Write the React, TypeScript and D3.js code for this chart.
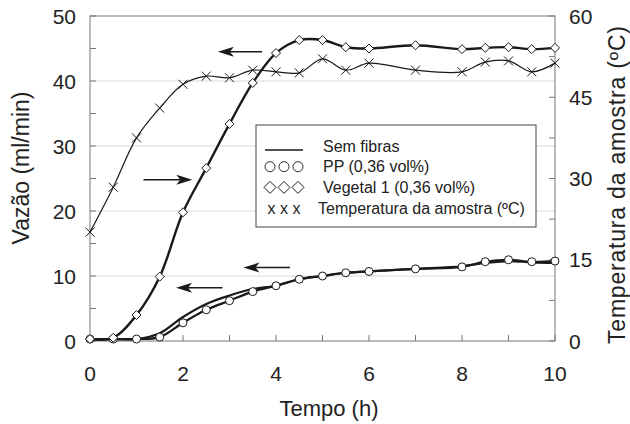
import React from "react";
import * as d3 from "d3";

const tempo = [0, 0.5, 1, 1.5, 2, 2.5, 3, 3.5, 4, 4.5, 5, 5.5, 6, 7, 8, 8.5, 9, 9.5, 10];
const semFibras = [0.3, 0.3, 0.3, 1.2, 3.7, 5.7, 7.0, 8.0, 8.5, 9.5, 10.0, 10.5, 10.7, 11.1, 11.5, 12.0, 12.3, 12.1, 12.0];
const pp = [0.3, 0.3, 0.3, 0.6, 2.8, 4.8, 6.2, 7.6, 8.5, 9.5, 10.0, 10.5, 10.7, 11.1, 11.4, 12.2, 12.5, 12.2, 12.3];
const vegetal = [0.3, 0.5, 4.0, 9.9, 19.8, 26.6, 33.4, 39.7, 44.3, 46.3, 46.3, 45.2, 45.0, 45.5, 44.9, 45.1, 45.2, 44.9, 45.1];
const temperatura = [20.1, 28.4, 37.5, 43.0, 47.4, 48.9, 48.6, 50.0, 49.7, 49.5, 52.1, 50.0, 51.3, 50.0, 49.7, 51.5, 51.7, 49.7, 51.3];

const xTicks = [0, 2, 4, 6, 8, 10];
const yLeftTicks = [0, 10, 20, 30, 40, 50];
const yRightTicks = [0, 15, 30, 45, 60];

const legendLabels = ["Sem fibras", "PP (0,36 vol%)", "Vegetal 1 (0,36 vol%)", "Temperatura da amostra (ºC)"];

// arrows: [fromTime, fromValue(left), toTime, toValue]
const arrows = [
  [3.7, 44.5, 2.75, 44.5],
  [1.15, 24.8, 2.2, 24.8],
  [4.3, 11.3, 3.3, 11.3],
  [2.85, 8.2, 1.85, 8.2],
];

const x = d3.scaleLinear().domain([0, 10]).range([90, 555]);
const yL = d3.scaleLinear().domain([0, 50]).range([341, 16]);
const yR = d3.scaleLinear().domain([0, 60]).range([341, 16]);

const FONT = "'Liberation Sans', Arial, sans-serif";
const INK = "#1a1a1a";

function lineFor(vals: number[], scale: d3.ScaleLinear<number, number>) {
  return d3
    .line<number>()
    .x((_, i) => x(tempo[i]))
    .y((v) => scale(v))
    .curve(d3.curveCatmullRom.alpha(0.5))(vals) as string;
}

function Diamond({ cx, cy, r }: { cx: number; cy: number; r: number }) {
  return (
    <path
      d={`M${cx},${cy - r}L${cx + r},${cy}L${cx},${cy + r}L${cx - r},${cy}Z`}
      fill="#fff"
      stroke={INK}
      strokeWidth={1}
    />
  );
}

function Cross({ cx, cy, r }: { cx: number; cy: number; r: number }) {
  return (
    <path
      d={`M${cx - r},${cy - r}L${cx + r},${cy + r}M${cx - r},${cy + r}L${cx + r},${cy - r}`}
      stroke={INK}
      strokeWidth={1}
    />
  );
}

export default function App() {
  const minorX = d3.range(0, 11, 1);
  const minorL = d3.range(0, 51, 5);
  const minorR = d3.range(0, 61, 7.5);
  return (
    <svg
      width={630}
      height={424}
      style={{ position: "absolute", left: 0, top: 0, background: "#fff" }}
      fontFamily={FONT}
    >
      <rect x={0} y={0} width={630} height={424} fill="#fff" />
      {/* gridlines */}
      {[10, 20, 30, 40].map((v) => (
        <line key={v} x1={x(0)} x2={x(10)} y1={yL(v)} y2={yL(v)} stroke="#d8d8d8" strokeWidth={1} />
      ))}
      {/* frame */}
      <rect x={x(0)} y={yL(50)} width={x(10) - x(0)} height={yL(0) - yL(50)} fill="none" stroke="#777" strokeWidth={1} />
      {/* ticks */}
      {minorX.map((t) => (
        <line key={"xt" + t} x1={x(t)} x2={x(t)} y1={yL(0)} y2={yL(0) - 6} stroke="#777" />
      ))}
      {minorL.map((t) => (
        <line key={"lt" + t} x1={x(0)} x2={x(0) + 6} y1={yL(t)} y2={yL(t)} stroke="#777" />
      ))}
      {minorR.map((t) => (
        <line key={"rt" + t} x1={x(10)} x2={x(10) - 6} y1={yR(t)} y2={yR(t)} stroke="#777" />
      ))}
      {/* tick labels */}
      {xTicks.map((t) => (
        <text key={"xl" + t} x={x(t)} y={373} textAnchor="middle" dominantBaseline="central" fontSize={21} fill="#222">
          {t}
        </text>
      ))}
      {yLeftTicks.map((t) => (
        <text key={"yl" + t} x={76} y={yL(t)} textAnchor="end" dominantBaseline="central" fontSize={21} fill="#222">
          {t}
        </text>
      ))}
      {yRightTicks.map((t) => (
        <text key={"yr" + t} x={569} y={yR(t)} textAnchor="start" dominantBaseline="central" fontSize={21} fill="#222">
          {t}
        </text>
      ))}
      {/* axis titles */}
      <text x={329} y={408} textAnchor="middle" dominantBaseline="central" fontSize={22} fill="#222">
        Tempo (h)
      </text>
      <text
        transform={`translate(21,168) rotate(-90)`}
        textAnchor="middle"
        dominantBaseline="central"
        fontSize={23}
        fill="#222"
      >
        Vazão (ml/min)
      </text>
      <text
        transform={`translate(617,185) rotate(-90)`}
        textAnchor="middle"
        dominantBaseline="central"
        fontSize={23}
        fill="#222"
        textLength={318}
        lengthAdjust="spacing"
      >
        Temperatura da amostra (ºC)
      </text>

      {/* series lines */}
      <path d={lineFor(temperatura, yR)} fill="none" stroke={INK} strokeWidth={1.2} />
      <path d={lineFor(semFibras, yL)} fill="none" stroke={INK} strokeWidth={2.2} />
      <path d={lineFor(pp, yL)} fill="none" stroke={INK} strokeWidth={2.2} />
      <path d={lineFor(vegetal, yL)} fill="none" stroke={INK} strokeWidth={2.4} />

      {/* markers */}
      {temperatura.map((v, i) => (
        <Cross key={"c" + i} cx={x(tempo[i])} cy={yR(v)} r={4.5} />
      ))}
      {pp.map((v, i) => (
        <circle key={"p" + i} cx={x(tempo[i])} cy={yL(v)} r={4} fill="#fff" stroke={INK} strokeWidth={1} />
      ))}
      {vegetal.map((v, i) => (
        <Diamond key={"d" + i} cx={x(tempo[i])} cy={yL(v)} r={4.5} />
      ))}

      {/* arrows */}
      {arrows.map(([t0, v0, t1, v1], i) => {
        const x0 = x(t0), y0 = yL(v0), x1 = x(t1), y1 = yL(v1);
        const dir = Math.sign(x1 - x0);
        const hl = 16, hw = 5;
        const bx = x1 - dir * hl;
        return (
          <g key={"a" + i}>
            <line x1={x0} y1={y0} x2={bx + dir * 4} y2={y1} stroke={INK} strokeWidth={1.5} />
            <path
              d={`M${x1},${y1}L${bx},${y1 - hw}L${bx + dir * 4},${y1}L${bx},${y1 + hw}Z`}
              fill={INK}
            />
          </g>
        );
      })}

      {/* legend */}
      <g>
        <rect x={256} y={125} width={280} height={102} fill="#fff" stroke="#444" strokeWidth={1} />
        {legendLabels.map((lab, i) => {
          const cy = 146 + i * 20.7;
          return (
            <g key={"lg" + i}>
              <text x={i === 3 ? 318 : 323} y={cy} dominantBaseline="central" fontSize={16} fill="#222">
                {lab}
              </text>
              {i === 0 && <line x1={265} x2={303} y1={cy + 4} y2={cy + 4} stroke={INK} strokeWidth={1.3} />}
              {i === 1 && [270, 284, 298].map((cx) => <circle key={cx} cx={cx} cy={cy} r={5} fill="#fff" stroke={INK} strokeWidth={0.9} />)}
              {i === 2 && [270, 284, 298].map((cx) => <Diamond key={cx} cx={cx} cy={cy} r={6} />)}
              {i === 3 && (
                <text x={284} y={cy} textAnchor="middle" dominantBaseline="central" fontSize={16} fill="#222">
                  x x x
                </text>
              )}
            </g>
          );
        })}
      </g>
    </svg>
  );
}
